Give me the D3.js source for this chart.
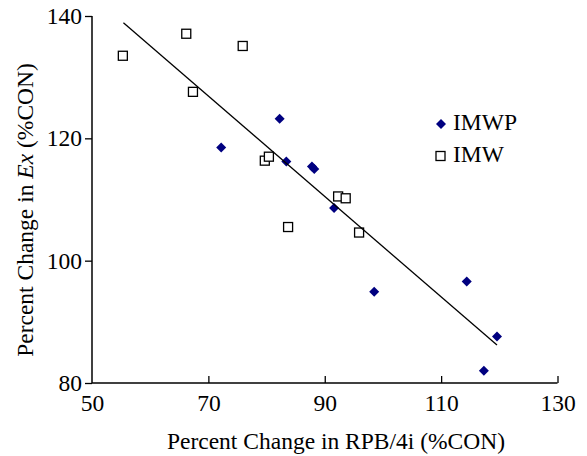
<!DOCTYPE html>
<html>
<head>
<meta charset="utf-8">
<script src="https://cdn.jsdelivr.net/npm/d3@7"></script>
<style>
  body { margin: 0; background: #fff; }
  text { font-family: "Liberation Serif", "Times New Roman", serif; }
</style>
</head>
<body>
<svg id="chart" width="587" height="456"></svg>
<script>
// IMWP series (filled diamonds)
var imwpX = [72.2, 82.25, 83.4, 87.8, 88.2, 91.6, 98.5, 114.4, 119.6, 117.35];
var imwpY = [118.5, 123.2, 116.2, 115.4, 115.0, 108.6, 94.9, 96.6, 87.6, 82.0];
// IMW series (open squares)
var imwX = [55.3, 66.2, 67.35, 75.9, 79.7, 80.4, 83.7, 92.3, 93.6, 95.9];
var imwY = [133.5, 137.1, 127.6, 135.1, 116.35, 117.0, 105.5, 110.5, 110.2, 104.6];
// linear trend line end points
var trendX = [55.4, 119.6];
var trendY = [138.9, 86.2];

var xTicks = [50, 70, 90, 110, 130];
var yTicks = [80, 100, 120, 140];

var svg = d3.select("#chart");

var x = d3.scaleLinear().domain([50, 130]).range([92, 557.5]);
var y = d3.scaleLinear().domain([80, 140]).range([383, 16]);

// axes
var gx = svg.append("g")
  .attr("transform", "translate(0," + y(80) + ")")
  .call(d3.axisBottom(x).tickValues(xTicks).tickSize(-7).tickPadding(11).tickFormat(d3.format("d")));
var gy = svg.append("g")
  .attr("transform", "translate(" + x(50) + ",0)")
  .call(d3.axisLeft(y).tickValues(yTicks).tickSize(7).tickPadding(3).tickFormat(d3.format("d")));

[gx, gy].forEach(function (g) {
  g.select(".domain").attr("stroke", "#000").attr("stroke-width", 1.5);
  g.selectAll(".tick line").attr("stroke", "#000").attr("stroke-width", 1.3);
  g.selectAll(".tick text")
    .attr("fill", "#000")
    .style("font-size", "23.5px")
    .style("font-family", "'Liberation Serif', serif");
});
// first x tick sits on the y axis, no tick mark there
gx.selectAll(".tick").filter(function (d) { return d === 50; }).select("line").remove();
gy.select(".domain").attr("d", "M0," + y(80) + "V" + y(140));
gx.select(".domain").attr("d", "M" + x(50) + ",0H" + x(130));

// squares
var sq = 9;
svg.append("g")
  .selectAll("rect")
  .data(d3.range(imwX.length))
  .enter().append("rect")
  .attr("x", function (i) { return x(imwX[i]) - sq / 2; })
  .attr("y", function (i) { return y(imwY[i]) - sq / 2; })
  .attr("width", sq)
  .attr("height", sq)
  .attr("fill", "#fff")
  .attr("stroke", "#000")
  .attr("stroke-width", 1.3);

// diamonds
var diamond = d3.symbol().type(d3.symbolDiamond2).size(64);
svg.append("g")
  .selectAll("path")
  .data(d3.range(imwpX.length))
  .enter().append("path")
  .attr("d", diamond)
  .attr("transform", function (i) { return "translate(" + x(imwpX[i]) + "," + y(imwpY[i]) + ")"; })
  .attr("fill", "#000080");

// trend line
svg.append("path")
  .datum(d3.range(trendX.length))
  .attr("fill", "none")
  .attr("stroke", "#000")
  .attr("stroke-width", 1.3)
  .attr("d", d3.line()
    .x(function (i) { return x(trendX[i]); })
    .y(function (i) { return y(trendY[i]); }));

// legend
var legend = svg.append("g");
legend.append("path")
  .attr("d", diamond)
  .attr("transform", "translate(441,124)")
  .attr("fill", "#000080");
legend.append("rect")
  .attr("x", 436).attr("y", 151.5)
  .attr("width", sq).attr("height", sq)
  .attr("fill", "#fff").attr("stroke", "#000").attr("stroke-width", 1.3);
legend.append("text").attr("x", 453).attr("y", 130).style("font-size", "23.5px").text("IMWP");
legend.append("text").attr("x", 453).attr("y", 162).style("font-size", "23.5px").text("IMW");

// axis titles
svg.append("text")
  .attr("x", 336).attr("y", 449)
  .attr("text-anchor", "middle")
  .style("font-size", "23.5px")
  .text("Percent Change in RPB/4i (%CON)");

var yt = svg.append("text")
  .attr("transform", "translate(33,210) rotate(-90)")
  .attr("text-anchor", "middle")
  .style("font-size", "23.5px");
yt.append("tspan").text("Percent Change in ");
yt.append("tspan").style("font-style", "italic").text("Ex");
yt.append("tspan").text(" (%CON)");
</script>
</body>
</html>
